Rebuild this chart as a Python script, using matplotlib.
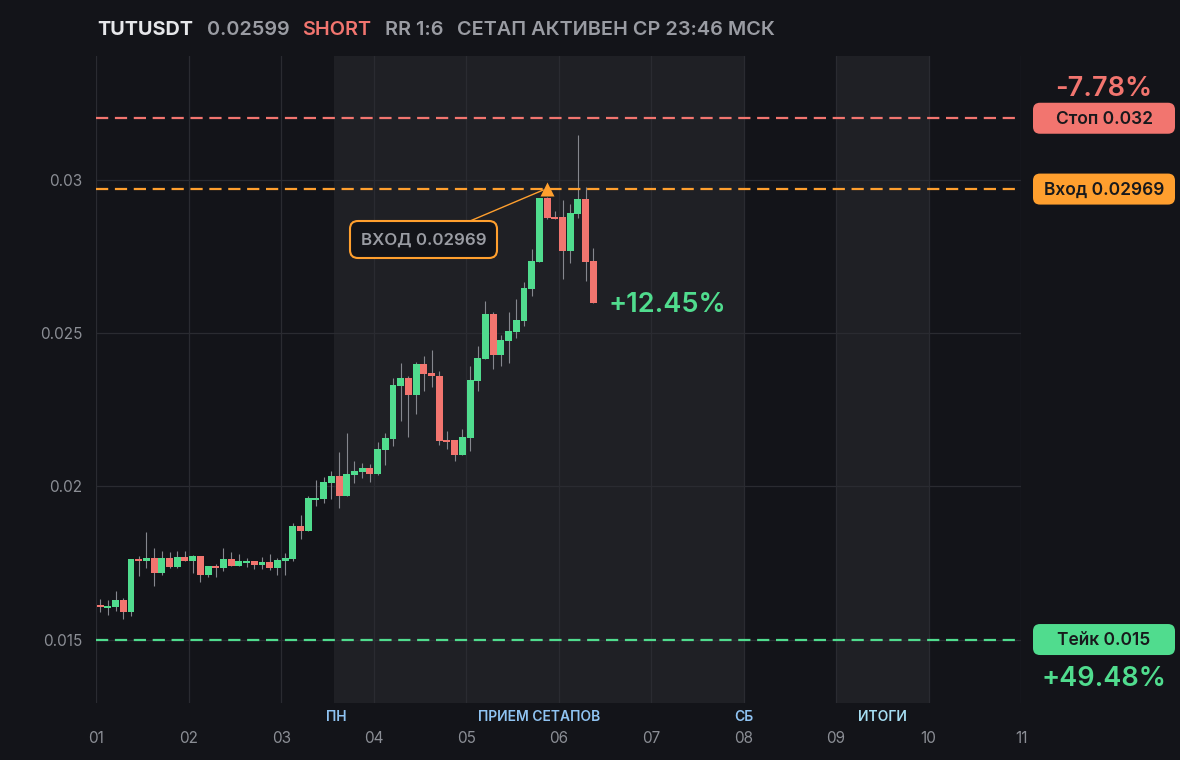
import numpy as np
import matplotlib
matplotlib.use("Agg")
import matplotlib.pyplot as plt
from matplotlib.patches import FancyBboxPatch
from matplotlib.lines import Line2D

# ---------------- data ----------------
opens = [0.01612, 0.01602, 0.01605, 0.01628, 0.01589, 0.01762, 0.01756, 0.01766, 0.01716, 0.01766,
         0.01736, 0.01769, 0.01756, 0.01772, 0.01710, 0.01739, 0.01733, 0.01762, 0.01739, 0.01749,
         0.01756, 0.01743, 0.01752, 0.01733, 0.01756, 0.01762, 0.01870, 0.01854, 0.01956, 0.01959,
         0.02011, 0.02034, 0.01969, 0.02037, 0.02047, 0.02060, 0.02041, 0.02119, 0.02155, 0.02326,
         0.02352, 0.02299, 0.02398, 0.02368, 0.02361, 0.02152, 0.02152, 0.02103, 0.02158, 0.02342,
         0.02414, 0.02561, 0.02427, 0.02473, 0.02502, 0.02538, 0.02643, 0.02732, 0.02941, 0.02879,
         0.02879, 0.02768, 0.02889, 0.02938, 0.02735]
highs = [0.01631, 0.01628, 0.01658, 0.01635, 0.01762, 0.01772, 0.01851, 0.01798, 0.01789, 0.01785,
         0.01789, 0.01789, 0.01775, 0.01772, 0.01739, 0.01746, 0.01798, 0.01785, 0.01779, 0.01766,
         0.01756, 0.01769, 0.01779, 0.01766, 0.01782, 0.01880, 0.01906, 0.01969, 0.02021, 0.02031,
         0.02050, 0.02113, 0.02172, 0.02083, 0.02077, 0.02073, 0.02145, 0.02172, 0.02352, 0.02401,
         0.02361, 0.02404, 0.02424, 0.02443, 0.02375, 0.02181, 0.02152, 0.02188, 0.02391, 0.02456,
         0.02604, 0.02568, 0.02492, 0.02568, 0.02610, 0.02666, 0.02774, 0.02941, 0.02944, 0.02899,
         0.02935, 0.02921, 0.03144, 0.02977, 0.02777]
lows = [0.01589, 0.01579, 0.01592, 0.01566, 0.01576, 0.01707, 0.01733, 0.01674, 0.01710, 0.01733,
        0.01733, 0.01756, 0.01716, 0.01687, 0.01703, 0.01703, 0.01723, 0.01739, 0.01739, 0.01736,
        0.01729, 0.01729, 0.01726, 0.01710, 0.01710, 0.01756, 0.01828, 0.01854, 0.01936, 0.01946,
        0.01959, 0.01929, 0.01969, 0.02011, 0.02027, 0.02014, 0.02037, 0.02070, 0.02132, 0.02214,
        0.02162, 0.02237, 0.02309, 0.02322, 0.02136, 0.02122, 0.02083, 0.02103, 0.02116, 0.02312,
        0.02414, 0.02381, 0.02391, 0.02401, 0.02483, 0.02522, 0.02620, 0.02732, 0.02873, 0.02873,
        0.02676, 0.02728, 0.02876, 0.02669, 0.02599]
closes = [0.01606, 0.01608, 0.01628, 0.01589, 0.01762, 0.01756, 0.01766, 0.01716, 0.01766, 0.01736,
          0.01769, 0.01756, 0.01772, 0.01710, 0.01739, 0.01733, 0.01762, 0.01739, 0.01756, 0.01756,
          0.01743, 0.01752, 0.01733, 0.01759, 0.01766, 0.01870, 0.01854, 0.01962, 0.01962, 0.02014,
          0.02034, 0.01969, 0.02041, 0.02050, 0.02060, 0.02041, 0.02122, 0.02158, 0.02329, 0.02352,
          0.02299, 0.02398, 0.02365, 0.02358, 0.02149, 0.02145, 0.02103, 0.02162, 0.02345, 0.02417,
          0.02561, 0.02427, 0.02476, 0.02506, 0.02542, 0.02646, 0.02735, 0.02941, 0.02876, 0.02873,
          0.02768, 0.02892, 0.02938, 0.02732, 0.02599]

candles_per_day = 12          # 2h candles
first_day = 1
day_ticks = list(range(1, 12))
day_labels = ["01", "02", "03", "04", "05", "06", "07", "08", "09", "10", "11"]
y_ticks = [0.015, 0.02, 0.025, 0.03]
y_labels = ["0.015", "0.02", "0.025", "0.03"]

symbol = "TUTUSDT"
last_price = "0.02599"
side = "SHORT"
rr = "RR 1:6"
status = "СЕТАП АКТИВЕН СР 23:46 МСК"

stop_price = 0.032
entry_price = 0.02969
take_price = 0.015
stop_text, entry_text, take_text = "Стоп 0.032", "Вход 0.02969", "Тейк 0.015"
stop_pct, take_pct, current_pct = "-7.78%", "+49.48%", "+12.45%"
entry_note = "ВХОД 0.02969"
entry_candle = 58

shade_regions = [(3.57, 8.0), (9.0, 10.0)]
session_labels = ["ПН", "ПРИЕМ СЕТАПОВ", "СБ", "ИТОГИ"]
session_pos = [3.59, 5.785, 8.0, 9.5]

# ---------------- style ----------------
BG = "#131419"
SHADE = "#1f2025"
GRID = "#2a2b31"
RED = "#f2756f"
GREEN = "#50dc8e"
ORANGE = "#ff9f2e"
WICK = "#85878e"
GREY = "#9a9ca3"
TICK = "#8b8e95"
BLUE = "#8fc3f2"
BLUE2 = "#a6def2"

plt.rcParams["font.family"] = ["Inter", "DejaVu Sans"]

W, H = 1180, 760
fig = plt.figure(figsize=(W / 100, H / 100), dpi=100, facecolor=BG)
L, R, T, B = 96.3, 1021.0, 56.0, 703.0
ax = fig.add_axes([L / W, 1 - B / H, (R - L) / W, (B - T) / H])
ax.set_facecolor(BG)
ax.set_xlim(1, 11)
ax.set_ylim(0.01293, 0.03403)
for s in ax.spines.values():
    s.set_visible(False)

for a, b in shade_regions:
    ax.axvspan(a, b, color=SHADE, lw=0, zorder=0)

ax.set_xticks(day_ticks, day_labels)
ax.set_yticks(y_ticks, y_labels)
ax.grid(True, color=GRID, lw=0.9)
ax.set_axisbelow(True)
ax.tick_params(axis="both", length=0, colors=TICK, labelsize=11)
ax.tick_params(axis="x", pad=20.5)
ax.tick_params(axis="y", pad=10)

o = np.array(opens); h = np.array(highs); lo = np.array(lows); c = np.array(closes)
n = len(o)
x = first_day + (np.arange(n) + 0.5) / candles_per_day
up = c >= o
cols = np.where(up, GREEN, RED)
ax.vlines(x, lo, h, color=WICK, lw=0.8, zorder=2)
body_h = np.maximum(np.abs(c - o), 0.00006)
ax.bar(x, body_h, bottom=np.minimum(o, c), width=0.9 / candles_per_day,
       color=cols, lw=0, zorder=3)

dash = (0, (5.5, 3.0))
ax.axhline(stop_price, color=RED, lw=1.6, ls=dash, zorder=4)
ax.axhline(entry_price, color=ORANGE, lw=1.6, ls=dash, zorder=4)
ax.axhline(take_price, color=GREEN, lw=1.6, ls=dash, zorder=4)

# overlay in pixel coordinates
ov = fig.add_axes([0, 0, 1, 1], zorder=5)
ov.set_xlim(0, W); ov.set_ylim(H, 0); ov.axis("off"); ov.patch.set_visible(False)

def ypix(price):
    return H - ax.transData.transform((1, price))[1]

def xpix(day):
    return ax.transData.transform((day, 0.02))[0]

# header
hy = 30
ov.text(97, hy, symbol, color="#e6e7ea", fontsize=14.3, fontweight="bold", va="center", ha="left")
ov.text(207, hy, last_price, color=GREY, fontsize=14.3, fontweight="semibold", va="center", ha="left")
ov.text(302, hy, side, color=RED, fontsize=14.3, fontweight="semibold", va="center", ha="left")
ov.text(385, hy, rr, color=GREY, fontsize=14.3, fontweight="semibold", va="center", ha="left")
ov.text(457, hy, status, color=GREY, fontsize=14.3, fontweight="semibold", va="center", ha="left")

# right-side price boxes
def price_box(price, text, color):
    yc = ypix(price)
    bw, bh, r = 142, 31, 7
    x0 = 1104 - bw / 2
    p = FancyBboxPatch((x0 + r, yc - bh / 2 + r), bw - 2 * r, bh - 2 * r,
                       boxstyle=f"round,pad={r}", fc=color, ec="none")
    ov.add_patch(p)
    ov.text(1104, yc + 1, text, color="#18191c", fontsize=12.5, fontweight="semibold",
            ha="center", va="center")
    return yc

ys = price_box(stop_price, stop_text, RED)
ye = price_box(entry_price, entry_text, ORANGE)
yt = price_box(take_price, take_text, GREEN)
ov.text(1104, ys - 29, stop_pct, color=RED, fontsize=19.5, fontweight="semibold", ha="center", va="center")
ov.text(1104, yt + 39, take_pct, color=GREEN, fontsize=19.5, fontweight="semibold", ha="center", va="center")

# current pct near last candle
ov.text(xpix(x[-1]) + 15, ypix(c[-1]) + 2, current_pct, color=GREEN, fontsize=19.5,
        fontweight="semibold", ha="left", va="center")

# entry marker and note
tx, ty = xpix(x[entry_candle]), ypix(entry_price)
bx0, by0, bx1, by1, r = 350, 221, 497, 258, 8
ov.add_line(Line2D([470, tx - 4], [by0, ty + 1], color=ORANGE, lw=1.0))
ov.add_patch(FancyBboxPatch((bx0 + r, by0 + r), bx1 - bx0 - 2 * r, by1 - by0 - 2 * r,
                            boxstyle=f"round,pad={r}", fc=BG, ec=ORANGE, lw=1.5))
ov.text((bx0 + bx1) / 2, (by0 + by1) / 2 + 1, entry_note, color=GREY, fontsize=12.2,
        fontweight="semibold", ha="center", va="center")
ov.plot([tx], [ty], marker="^", ms=9.5, color=ORANGE, mec="none")

# session labels under the axis
for lab, d in zip(session_labels, session_pos):
    ov.text(xpix(d), 717, lab, color=BLUE2 if lab == "ИТОГИ" else BLUE, fontsize=10,
            fontweight="semibold", ha="center", va="center")

fig.savefig("out.png", dpi=100, facecolor=BG)
